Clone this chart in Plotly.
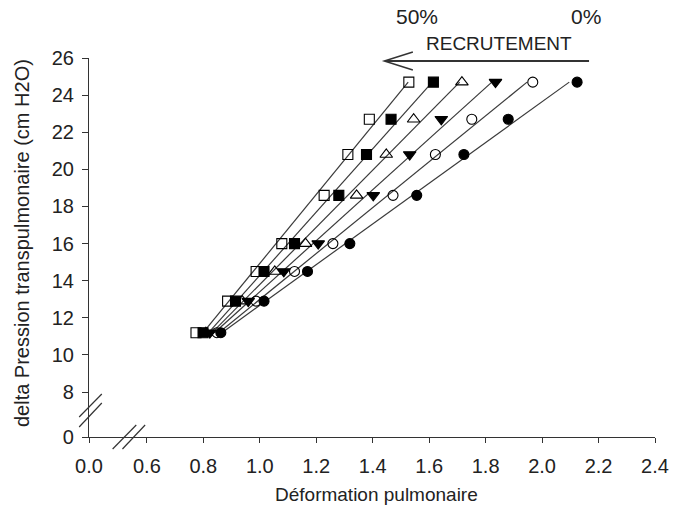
import numpy as np
import plotly.graph_objects as go

# Transpulmonary pressure levels (cm H2O), shared by every series
pression = [11.2, 12.9, 14.5, 16.0, 18.6, 20.8, 22.7, 24.7]

# Lung strain for each recruitment level (50% -> 0%)
def_50 = [0.774, 0.886, 0.987, 1.078, 1.228, 1.312, 1.388, 1.528]
def_40 = [0.799, 0.914, 1.015, 1.123, 1.280, 1.378, 1.465, 1.615]
def_30 = [0.809, 0.938, 1.053, 1.162, 1.343, 1.448, 1.545, 1.716]
def_20 = [0.823, 0.959, 1.085, 1.207, 1.402, 1.531, 1.643, 1.835]
def_10 = [0.848, 0.987, 1.123, 1.259, 1.472, 1.622, 1.751, 1.967]
def_0 = [0.862, 1.015, 1.169, 1.319, 1.556, 1.723, 1.880, 2.124]

series = [def_50, def_40, def_30, def_20, def_10, def_0]
symbols = ["square-open", "square", "triangle-up-open", "triangle-down",
           "circle-open", "circle"]
sizes = [10, 10, 11, 11, 10, 10]

# Broken axes: the "0" ticks sit just below the break
x_zero = 0.395
y_zero = 5.58
x_ticks = [x_zero, 0.6, 0.8, 1.0, 1.2, 1.4, 1.6, 1.8, 2.0, 2.2, 2.4]
x_text = ["0.0", "0.6", "0.8", "1.0", "1.2", "1.4", "1.6", "1.8", "2.0", "2.2", "2.4"]
y_ticks = [y_zero, 8, 10, 12, 14, 16, 18, 20, 22, 24, 26]
y_text = ["0", "8", "10", "12", "14", "16", "18", "20", "22", "24", "26"]

FONT = "Liberation Sans, Arial, Helvetica, sans-serif"
INK = "#222222"

fig = go.Figure()

p = np.array(pression)
for xs in series:
    xs = np.array(xs)
    # linear fit of strain against pressure, drawn across the pressure span
    a, b = np.polyfit(p, xs, 1)
    p_end = np.array([p.min(), p.max()])
    fig.add_trace(go.Scatter(
        x=a * p_end + b, y=p_end, mode="lines",
        line=dict(color="#3a3a3a", width=1.2),
        hoverinfo="skip", showlegend=False))

for xs, sym, sz in zip(series, symbols, sizes):
    fig.add_trace(go.Scatter(
        x=xs, y=pression, mode="markers",
        marker=dict(symbol=sym, size=sz, color="black",
                    line=dict(color="black", width=1.1)),
        showlegend=False, cliponaxis=False))

L, R, T, B = 89, 17, 58, 70
W, H = 681, 507
pw, ph = W - L - R, H - T - B


def px(xp):
    return (xp - L) / pw


def py(yp):
    return (H - B - yp) / ph


shapes = []
# axis break marks
for (x0, y0, x1, y1) in [(79, 417, 102, 394), (79, 427, 102, 403),
                         (113, 449, 137, 425), (123, 449, 146, 425)]:
    shapes.append(dict(type="line", xref="paper", yref="paper",
                       x0=px(x0), y0=py(y0), x1=px(x1), y1=py(y1),
                       line=dict(color="#333333", width=1.2)))
# recruitment arrow
shapes.append(dict(type="line", xref="paper", yref="paper",
                   x0=px(597), y0=py(61), x1=px(390), y1=py(61),
                   line=dict(color="#333333", width=2)))
shapes.append(dict(type="path", xref="paper", yref="paper",
                   path=f"M {px(418)},{py(52)} L {px(389)},{py(61)} L {px(418)},{py(70)}",
                   line=dict(color="#333333", width=1.5)))

annotations = [
    dict(text="50%", x=px(422), y=py(17), font=dict(size=21)),
    dict(text="0%", x=px(594), y=py(17), font=dict(size=21)),
    dict(text="RECRUTEMENT", x=px(506), y=py(43), font=dict(size=19)),
    dict(text="Déformation pulmonaire", x=px(381), y=py(494), font=dict(size=19)),
    dict(text="delta Pression transpulmonaire (cm H2O)", x=px(21), y=py(243),
         textangle=-90, font=dict(size=20)),
]
for a in annotations:
    a.update(xref="paper", yref="paper", showarrow=False,
             xanchor="center", yanchor="middle")
    a["font"].update(family=FONT, color=INK)

fig.update_layout(
    width=W, height=H,
    margin=dict(l=L, r=R, t=T, b=B),
    paper_bgcolor="white", plot_bgcolor="white",
    font=dict(family=FONT, color=INK),
    shapes=shapes, annotations=annotations,
    xaxis=dict(range=[x_zero, 2.4], tickvals=x_ticks, ticktext=x_text,
               showgrid=False, zeroline=False, showline=True,
               linecolor="#333333", linewidth=1.2,
               ticks="outside", ticklen=5, tickcolor="#333333", tickwidth=1.2,
               tickfont=dict(size=20, family=FONT, color=INK),
               ticklabelstandoff=6),
    yaxis=dict(range=[y_zero, 26], tickvals=y_ticks, ticktext=y_text,
               showgrid=False, zeroline=False, showline=True,
               linecolor="#333333", linewidth=1.2,
               ticks="outside", ticklen=6, tickcolor="#333333", tickwidth=1.2,
               tickfont=dict(size=20, family=FONT, color=INK),
               ticklabelstandoff=4),
)

fig.write_html("out.html")
